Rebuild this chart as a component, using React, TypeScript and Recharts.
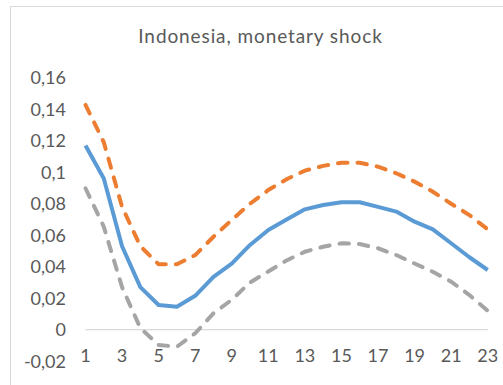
import React from "react";
import { LineChart, Line, XAxis, YAxis, ReferenceLine } from "recharts";

const periods = [1, 2, 3, 4, 5, 6, 7, 8, 9, 10, 11, 12, 13, 14, 15, 16, 17, 18, 19, 20, 21, 22, 23];
const response = [0.117, 0.096, 0.053, 0.027, 0.0157, 0.0146, 0.0215, 0.0335, 0.042, 0.0538, 0.0633, 0.07, 0.0764, 0.0792, 0.0809, 0.0809, 0.078, 0.075, 0.0686, 0.0637, 0.0549, 0.046, 0.0379];
const upperBand = [0.1427, 0.119, 0.078, 0.053, 0.0415, 0.0415, 0.0474, 0.059, 0.0697, 0.08, 0.0887, 0.0955, 0.101, 0.104, 0.106, 0.106, 0.1035, 0.0993, 0.094, 0.0876, 0.08, 0.0728, 0.0637];
const lowerBand = [0.0898, 0.0654, 0.027, 0.001, -0.0097, -0.0108, -0.0023, 0.0104, 0.019, 0.03, 0.037, 0.044, 0.0495, 0.0527, 0.0549, 0.0544, 0.0517, 0.0474, 0.042, 0.0368, 0.0305, 0.022, 0.012];
const yTicks = [-0.02, 0, 0.02, 0.04, 0.06, 0.08, 0.1, 0.12, 0.14, 0.16];
const title = "Indonesia, monetary shock";

const data = periods.map((p, i) => ({
  period: p,
  response: response[i],
  upper: upperBand[i],
  lower: lowerBand[i],
}));

const FONT = "Lato, 'Noto Sans', sans-serif";
const TEXT = "#595959";

const fmt = (v: number) => String(Number(v.toFixed(2))).replace(".", ",");

const XTick = (props: any) => {
  const { x, y, payload } = props;
  return (
    <text x={x} y={y + 1} textAnchor="middle" fill={TEXT} fontSize={18} fontFamily={FONT}>
      {payload.value}
    </text>
  );
};

export default function App() {
  return (
    <div style={{ position: "absolute", left: 0, top: 0, width: 503, height: 385, overflow: "hidden", background: "#fff" }}>
      <style>{"body{margin:0;overflow:hidden}"}</style>
      <div
        style={{
          position: "absolute",
          left: 10,
          top: 6,
          width: 600,
          height: 500,
          border: "1px solid #d9d9d9",
        }}
      />
      <div
        style={{
          position: "absolute",
          left: 0,
          top: 24,
          width: 521,
          textAlign: "center",
          fontFamily: FONT,
          fontSize: 19,
          color: TEXT,
          letterSpacing: 0.9,
        }}
      >
        {title}
      </div>
      <div style={{ position: "absolute", left: 0, top: 0 }}>
        <LineChart
          width={503}
          height={385}
          data={data}
          margin={{ top: 77.7, right: 15.3, bottom: 22.8, left: 0 }}
        >
          <XAxis
            dataKey="period"
            type="category"
            axisLine={false}
            tickLine={false}
            tickSize={0}
            tickMargin={0}
            height={1}
            interval={1}
            tick={<XTick />}
          />
          <YAxis
            type="number"
            domain={[-0.02, 0.16]}
            ticks={yTicks}
            width={85.5}
            axisLine={false}
            tickLine={false}
            tickSize={0}
            tickMargin={19.5}
            tickFormatter={fmt}
            tick={{ fill: TEXT, fontSize: 18, fontFamily: FONT }}
            interval={0}
          />
          <ReferenceLine y={0} stroke="#d9d9d9" strokeWidth={1.3} ifOverflow="extendDomain" />
          <Line
            dataKey="response"
            stroke="#5B9BD5"
            strokeWidth={4}
            dot={false}
            isAnimationActive={false}
            strokeLinejoin="round"
          />
          <Line
            dataKey="upper"
            stroke="#ED7D31"
            strokeWidth={4}
            strokeDasharray="9.5 10"
            strokeLinecap="round"
            dot={false}
            isAnimationActive={false}
          />
          <Line
            dataKey="lower"
            stroke="#A5A5A5"
            strokeWidth={4}
            strokeDasharray="9.5 10"
            strokeLinecap="round"
            dot={false}
            isAnimationActive={false}
          />
        </LineChart>
      </div>
    </div>
  );
}
